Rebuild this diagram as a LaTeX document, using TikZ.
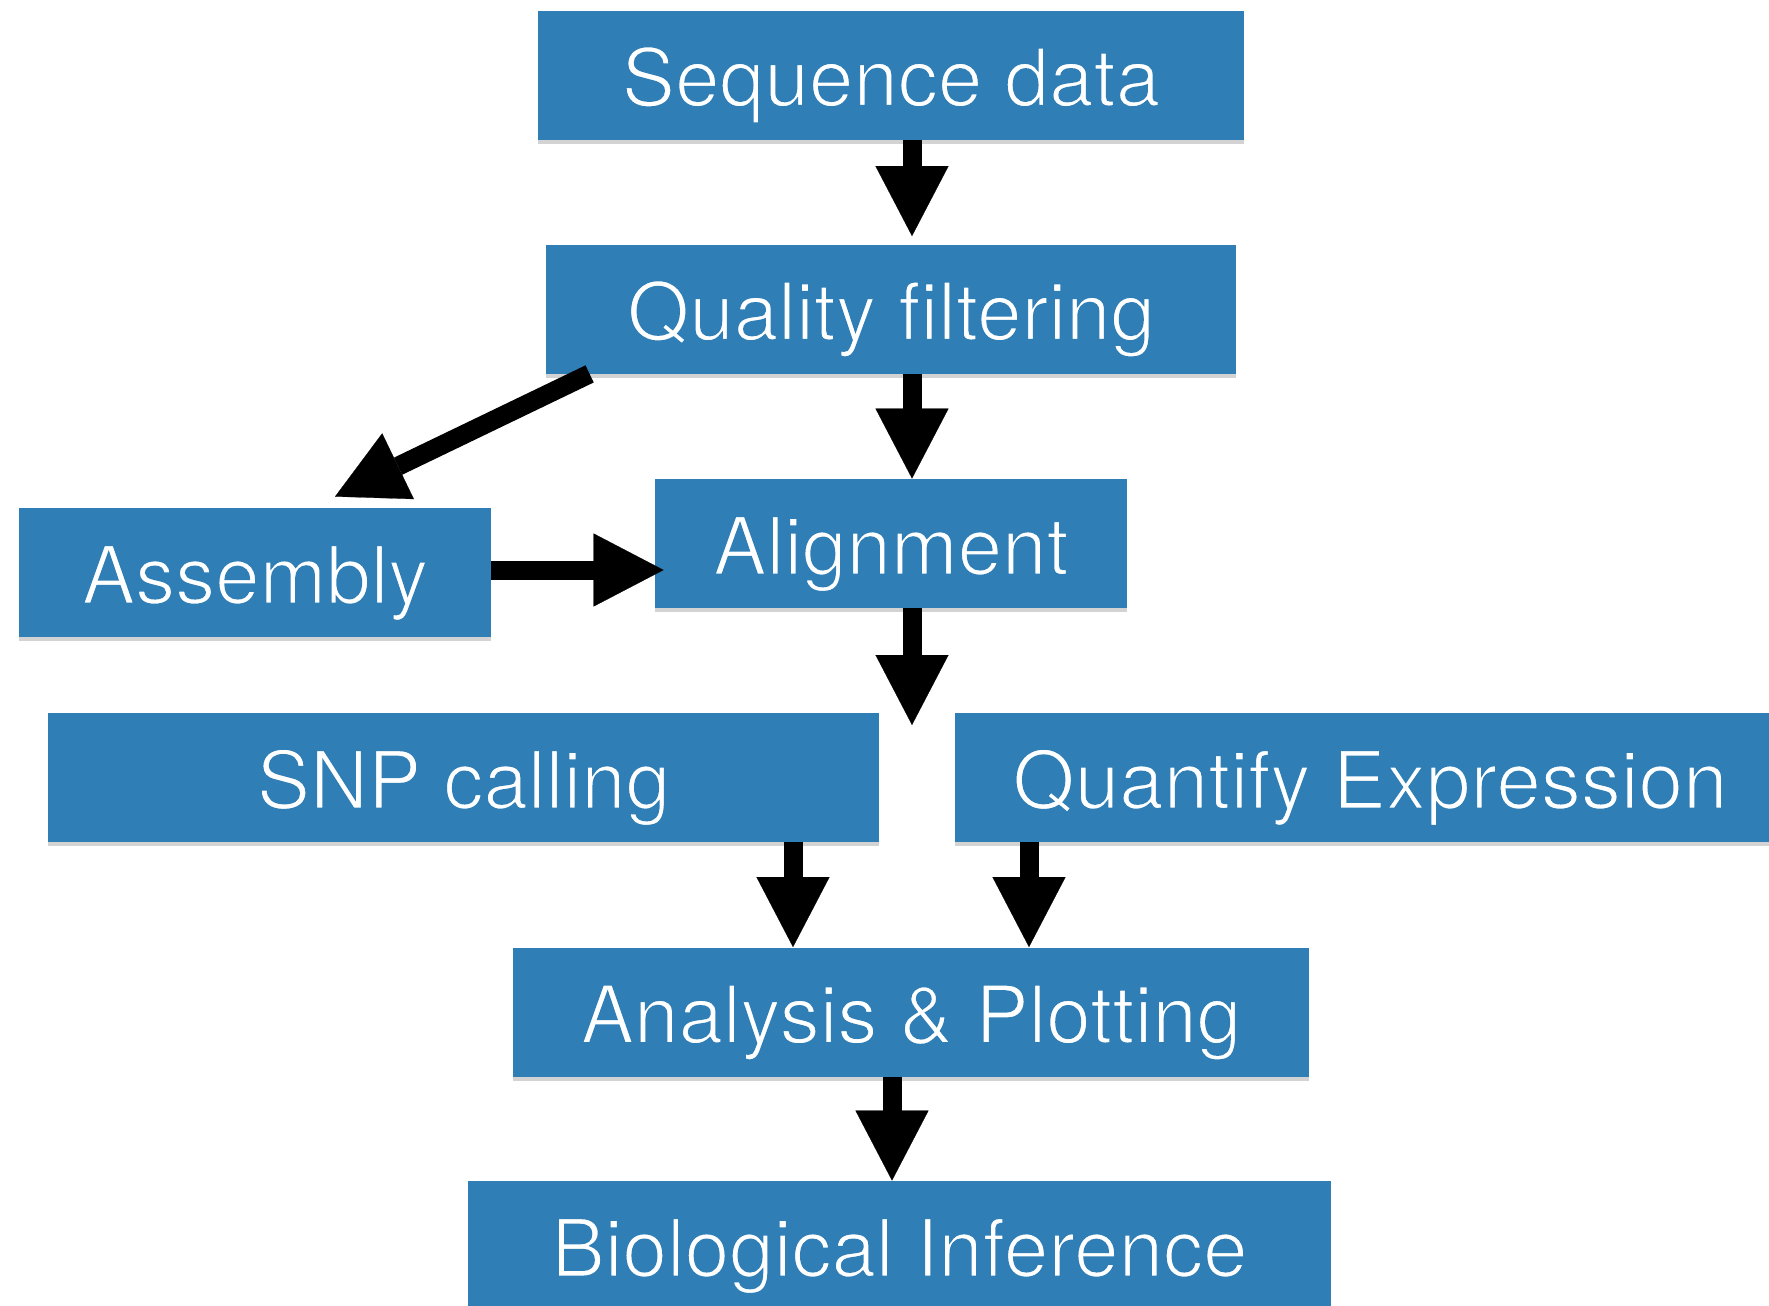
\documentclass[tikz,border=0pt]{standalone}
\usepackage{fontspec}
\setmainfont{TeX Gyre Heros}
\usetikzlibrary{arrows.meta,shadows}
\definecolor{boxblue}{RGB}{47,126,182}
% white letters, thinned by stroking their edges in the box colour
\newcommand\thinon{\special{pdf:bcolor [1 1 1] [0.184 0.494 0.714]}\special{pdf:literal direct 2 Tr 1 w}}
\newcommand\thinoff{\special{pdf:literal direct 0 Tr}\special{pdf:ecolor}}
\tikzset{
  stage/.style={rectangle,fill=boxblue,inner sep=0pt,minimum height=64.5pt,
    font=\fontsize{40}{48}\selectfont,text height=31pt,text depth=0pt,
    execute at begin node=\thinon,execute at end node=\thinoff,
    drop shadow={shadow xshift=0pt,shadow yshift=-2pt,opacity=0.35}},
  flow/.style={line width=9.5pt,-{Triangle[length=35pt,width=36.5pt,line width=0.1pt,fill=black]}},
}
\begin{document}
\begin{tikzpicture}[x=0.5pt,y=-0.5pt]
\useasboundingbox (0,0) rectangle (1769,1306);
\draw (891,75) node[stage,minimum width=353pt] (seq) {Sequence data};
\draw (891,309) node[stage,minimum width=345pt] (qf) {Quality filtering};
\draw (255,572.5) node[stage,minimum width=236pt] (asm) {Assembly};
\draw (891,543.5) node[stage,minimum width=236pt] (al) {Alignment};
\draw (463.5,777.5) node[stage,minimum width=415.5pt] (snp) {SNP calling};
\draw (1370,777.5) node[stage,minimum width=415pt] (qe) {Quantify Expression};
\draw (911,1012) node[stage,minimum width=398pt] (ap) {Analysis \& Plotting};
\draw (899.5,1245.5) node[stage,minimum width=431.5pt] (bi) {Biological Inference};
% arrow columns
\coordinate (c1) at (912,0);
\coordinate (c2) at (793,0);
\coordinate (c3) at (1029,0);
\coordinate (c4) at (892,0);
\coordinate (gap) at (912,725);
\draw[flow,shorten >=4pt] (seq.south -| c1) -- (qf.north -| c1);
\draw[flow] (qf.south -| c1) -- (al.north -| c1);
\draw[flow] ([xshift=22pt]qf.south west) -- ([xshift=40pt,yshift=5.5pt]asm.north);
\draw[flow,shorten >=-4.5pt] ([yshift=1.25pt]asm.east) -- ([yshift=1.25pt]asm.east -| al.west);
\draw[flow] (al.south -| gap) -- (gap);
\draw[flow] (snp.south -| c2) -- (ap.north -| c2);
\draw[flow] (qe.south -| c3) -- (ap.north -| c3);
\draw[flow] (ap.south -| c4) -- (bi.north -| c4);
\end{tikzpicture}
\end{document}
